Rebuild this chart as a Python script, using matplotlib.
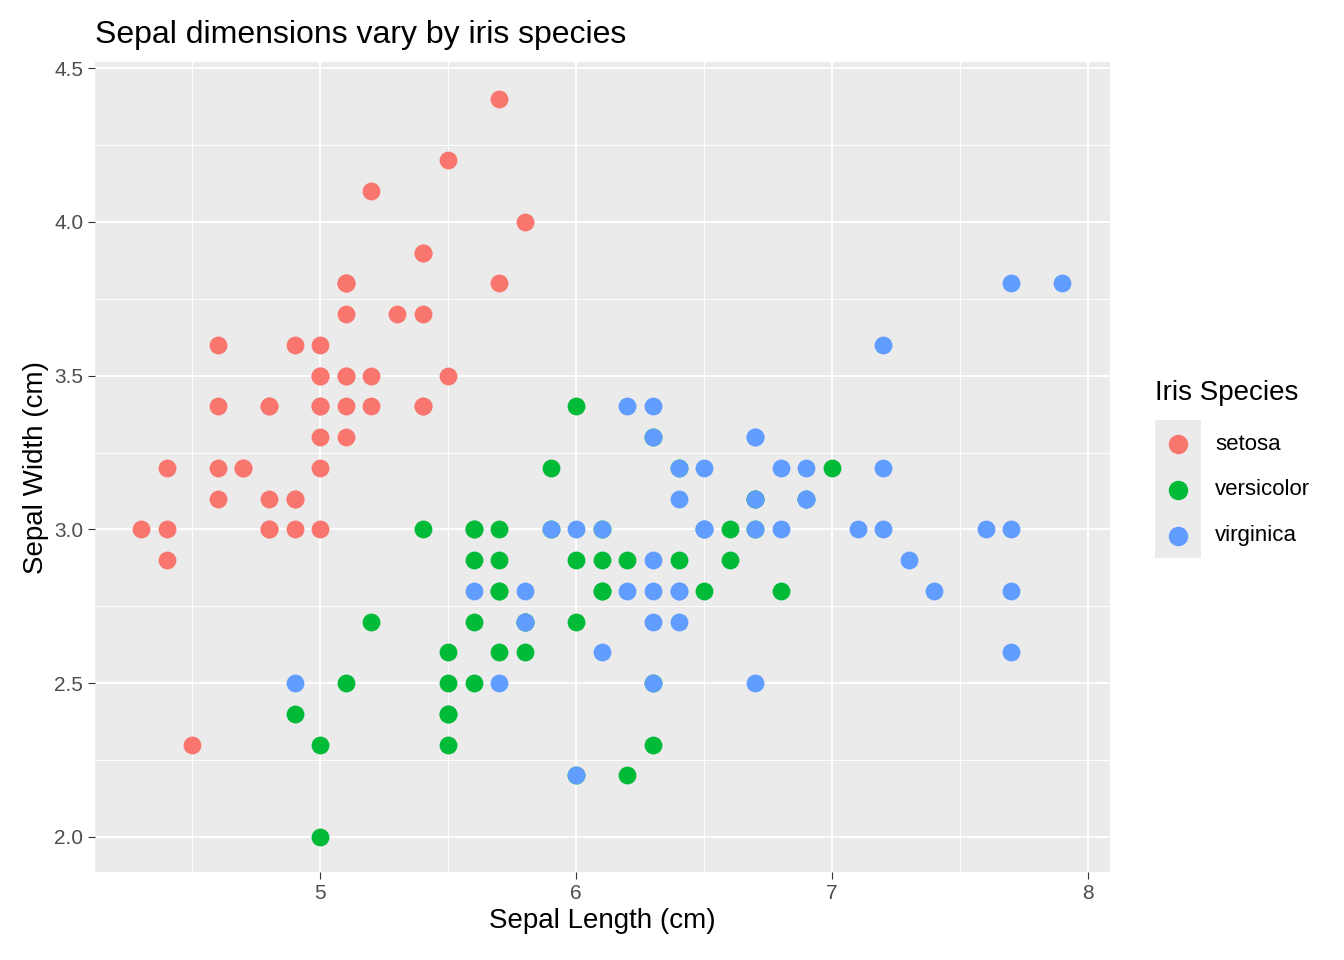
import matplotlib.pyplot as plt
from matplotlib.patches import Rectangle
from matplotlib.lines import Line2D

plt.rcParams['font.family'] = ['Liberation Sans', 'DejaVu Sans']

species = ["setosa", "versicolor", "virginica"]
colors = {"setosa": "#F8766D", "versicolor": "#00BA38", "virginica": "#619CFF"}

# sepal length / width (iris data)
setosa_len = [5.1, 4.9, 4.7, 4.6, 5.0, 5.4, 4.6, 5.0, 4.4, 4.9, 5.4, 4.8, 4.8, 4.3, 5.8, 5.7, 5.4, 5.1, 5.7, 5.1,
              5.4, 5.1, 4.6, 5.1, 4.8, 5.0, 5.0, 5.2, 5.2, 4.7, 4.8, 5.4, 5.2, 5.5, 4.9, 5.0, 5.5, 4.9, 4.4, 5.1,
              5.0, 4.5, 4.4, 5.0, 5.1, 4.8, 5.1, 4.6, 5.3, 5.0]
setosa_wid = [3.5, 3.0, 3.2, 3.1, 3.6, 3.9, 3.4, 3.4, 2.9, 3.1, 3.7, 3.4, 3.0, 3.0, 4.0, 4.4, 3.9, 3.5, 3.8, 3.8,
              3.4, 3.7, 3.6, 3.3, 3.4, 3.0, 3.4, 3.5, 3.4, 3.2, 3.1, 3.4, 4.1, 4.2, 3.1, 3.2, 3.5, 3.6, 3.0, 3.4,
              3.5, 2.3, 3.2, 3.5, 3.8, 3.0, 3.8, 3.2, 3.7, 3.3]
versicolor_len = [7.0, 6.4, 6.9, 5.5, 6.5, 5.7, 6.3, 4.9, 6.6, 5.2, 5.0, 5.9, 6.0, 6.1, 5.6, 6.7, 5.6, 5.8, 6.2, 5.6,
                  5.9, 6.1, 6.3, 6.1, 6.4, 6.6, 6.8, 6.7, 6.0, 5.7, 5.5, 5.5, 5.8, 6.0, 5.4, 6.0, 6.7, 6.3, 5.6, 5.5,
                  5.5, 6.1, 5.8, 5.0, 5.6, 5.7, 5.7, 6.2, 5.1, 5.7]
versicolor_wid = [3.2, 3.2, 3.1, 2.3, 2.8, 2.8, 3.3, 2.4, 2.9, 2.7, 2.0, 3.0, 2.2, 2.9, 2.9, 3.1, 3.0, 2.7, 2.2, 2.5,
                  3.2, 2.8, 2.5, 2.8, 2.9, 3.0, 2.8, 3.0, 2.9, 2.6, 2.4, 2.4, 2.7, 2.7, 3.0, 3.4, 3.1, 2.3, 3.0, 2.5,
                  2.6, 3.0, 2.6, 2.3, 2.7, 3.0, 2.9, 2.9, 2.5, 2.8]
virginica_len = [6.3, 5.8, 7.1, 6.3, 6.5, 7.6, 4.9, 7.3, 6.7, 7.2, 6.5, 6.4, 6.8, 5.7, 5.8, 6.4, 6.5, 7.7, 7.7, 6.0,
                 6.9, 5.6, 7.7, 6.3, 6.7, 7.2, 6.2, 6.1, 6.4, 7.2, 7.4, 7.9, 6.4, 6.3, 6.1, 7.7, 6.3, 6.4, 6.0, 6.9,
                 6.7, 6.9, 5.8, 6.8, 6.7, 6.7, 6.3, 6.5, 6.2, 5.9]
virginica_wid = [3.3, 2.7, 3.0, 2.9, 3.0, 3.0, 2.5, 2.9, 2.5, 3.6, 3.2, 2.7, 3.0, 2.5, 2.8, 3.2, 3.0, 3.8, 2.6, 2.2,
                 3.2, 2.8, 2.8, 2.7, 3.3, 3.2, 2.8, 3.0, 2.8, 3.0, 2.8, 3.8, 2.8, 2.8, 2.6, 3.0, 3.4, 3.1, 3.0, 3.1,
                 3.1, 3.1, 2.7, 3.2, 3.3, 3.0, 2.5, 3.0, 3.4, 3.0]

data = {"setosa": (setosa_len, setosa_wid),
        "versicolor": (versicolor_len, versicolor_wid),
        "virginica": (virginica_len, virginica_wid)}

W, H = 1344, 960
fig = plt.figure(figsize=(13.44, 9.6), dpi=100)
ax = fig.add_axes([95 / W, 1 - 872 / H, 1015 / W, 810 / H])
ax.set_facecolor("#EBEBEB")
for sp in species:
    x, y = data[sp]
    ax.scatter(x, y, s=165, color=colors[sp], label=sp, linewidths=0, zorder=3)

ax.set_xlim(4.12, 8.086)
ax.set_ylim(1.886, 4.52)
ax.set_xticks([5, 6, 7, 8])
ax.set_xticks([4.5, 5.5, 6.5, 7.5], minor=True)
ax.set_yticks([2.0, 2.5, 3.0, 3.5, 4.0, 4.5])
ax.set_yticks([2.25, 2.75, 3.25, 3.75, 4.25], minor=True)
ax.set_yticklabels(["2.0", "2.5", "3.0", "3.5", "4.0", "4.5"])
ax.grid(True, which="major", color="white", linewidth=1.4, zorder=0)
ax.grid(True, which="minor", color="white", linewidth=0.7, zorder=0)
ax.set_axisbelow(True)
for s in ax.spines.values():
    s.set_visible(False)
ax.tick_params(which="major", length=5, color="#333333", labelsize=15, labelcolor="#4D4D4D")
ax.tick_params(which="minor", length=0)

ax.set_xlabel("Sepal Length (cm)", fontsize=20)
ax.set_ylabel("Sepal Width (cm)", fontsize=20)
ax.set_title("Sepal dimensions vary by iris species", fontsize=23, loc="left", x=0.0, pad=14)

# legend drawn by hand, ggplot style with grey key boxes
fig.text(1155 / W, 1 - 393 / H, "Iris Species", fontsize=20, va="center", ha="left")
fig.add_artist(Rectangle((1155 / W, 1 - 558 / H), 46 / W, 138 / H, transform=fig.transFigure,
                         facecolor="#EBEBEB", edgecolor="none"))
for i, sp in enumerate(species):
    yc = 1 - (444 + 46 * i) / H
    fig.add_artist(Line2D([1178 / W], [yc], marker="o", markersize=13, color=colors[sp],
                          linestyle="none", transform=fig.transFigure))
    fig.text(1215 / W, yc, sp, fontsize=16, va="center", ha="left")

fig.savefig("out.png", dpi=100)
